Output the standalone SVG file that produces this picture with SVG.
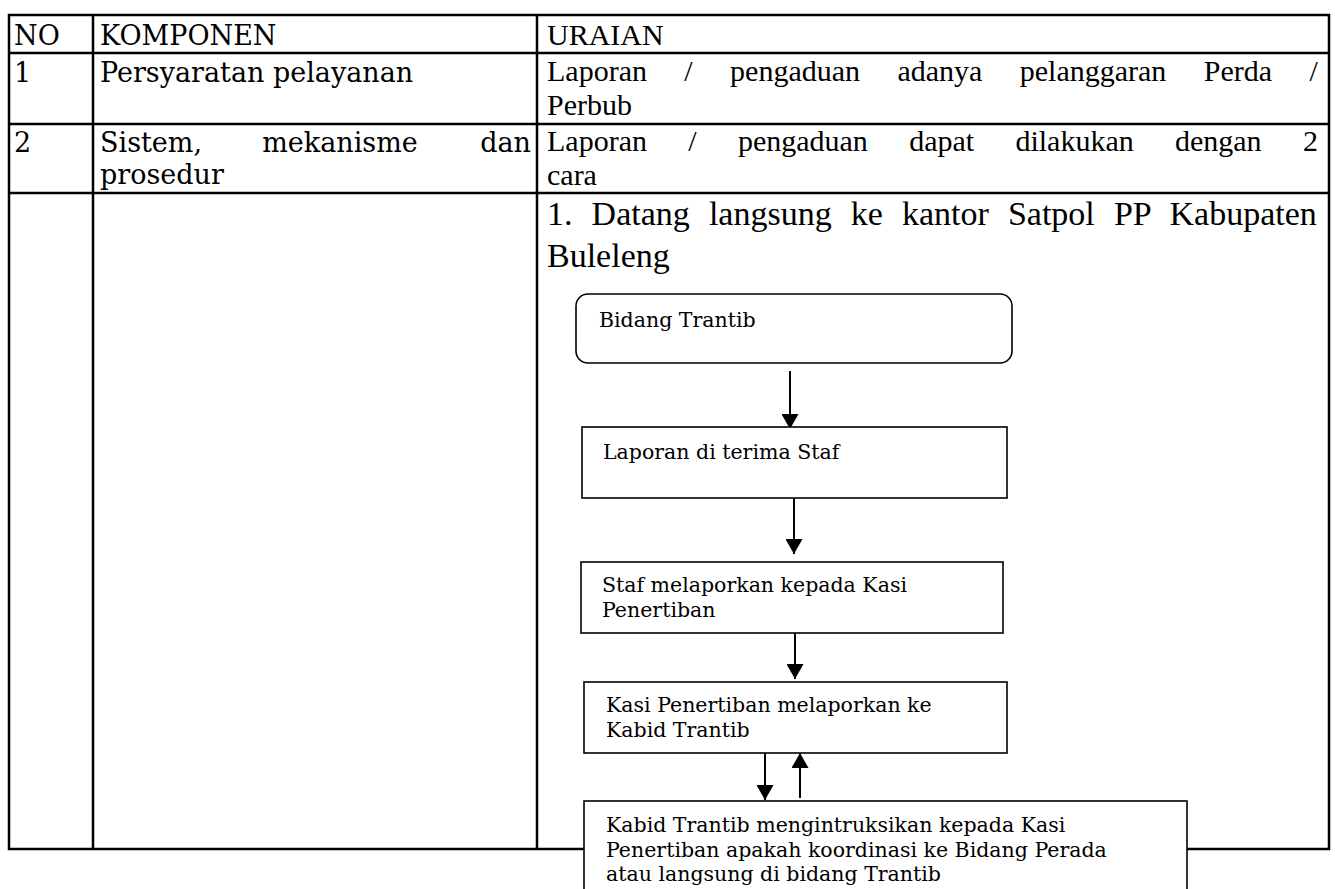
<svg xmlns="http://www.w3.org/2000/svg" width="1335" height="889" viewBox="0 0 1335 889">
<style>
.grid{stroke:#000;stroke-width:2.5;fill:none}
.box{fill:#fff;stroke:#000;stroke-width:1.6}
.k{font-family:"DejaVu Serif","Liberation Serif",serif;font-size:27px;fill:#000}
.u{font-family:"Liberation Serif",serif;font-size:30px;fill:#000}
.u3{font-family:"Liberation Serif",serif;font-size:34px;fill:#000}
.f{font-family:"DejaVu Serif","Liberation Serif",serif;font-size:20.5px;fill:#000}
.c{stroke:#000;stroke-width:2;fill:none}
</style>
<defs>
<marker id="ah" viewBox="0 0 15 17" refX="15" refY="8.5" markerWidth="15" markerHeight="17" markerUnits="userSpaceOnUse" orient="auto">
<path d="M0,0 L15,8.5 L0,17 z" fill="#000"/>
</marker>
</defs>
<rect width="1335" height="889" fill="#fff"/>
<g id="table">
<rect class="grid" x="9" y="15" width="1320" height="834"/>
<line class="grid" x1="93" y1="15" x2="93" y2="849"/>
<line class="grid" x1="537" y1="15" x2="537" y2="849"/>
<line class="grid" x1="9" y1="53" x2="1329" y2="53"/>
<line class="grid" x1="9" y1="124" x2="1329" y2="124"/>
<line class="grid" x1="9" y1="193" x2="1329" y2="193"/>
<text class="k" x="14" y="45">NO</text>
<text class="k" x="100" y="45">KOMPONEN</text>
<text class="u" x="547" y="45" font-size="32">URAIAN</text>
<text class="k" x="14" y="82">1</text>
<text class="k" x="100" y="82">Persyaratan pelayanan</text>
<text class="u" x="547" y="81" word-spacing="29.9">Laporan / pengaduan adanya pelanggaran Perda /</text>
<text class="u" x="547" y="115">Perbub</text>
<text class="k" x="14" y="152">2</text>
<text class="k" x="100" y="152">Sistem,</text>
<text class="k" x="340" y="152" text-anchor="middle">mekanisme</text>
<text class="k" x="531" y="152" text-anchor="end">dan</text>
<text class="k" x="100" y="184">prosedur</text>
<text class="u" x="547" y="151" word-spacing="33.8">Laporan / pengaduan dapat dilakukan dengan 2</text>
<text class="u" x="547" y="185">cara</text>
<text class="u3" x="547" y="225" word-spacing="10.6">1. Datang langsung ke kantor Satpol PP Kabupaten</text>
<text class="u3" x="547" y="267">Buleleng</text>
</g>
<g id="connectors">
<line class="c" x1="790" y1="371" x2="790" y2="429" marker-end="url(#ah)"/>
<line class="c" x1="794" y1="498" x2="794" y2="554" marker-end="url(#ah)"/>
<line class="c" x1="795" y1="633" x2="795" y2="679" marker-end="url(#ah)"/>
<line class="c" x1="765" y1="753" x2="765" y2="800" marker-end="url(#ah)"/>
<line class="c" x1="800" y1="798" x2="800" y2="753" marker-end="url(#ah)"/>
</g>
<g id="n1">
<rect class="box" x="576" y="294" width="436" height="69" rx="12"/>
<text class="f" x="599" y="327">Bidang Trantib</text>
</g>
<g id="n2">
<rect class="box" x="582" y="427" width="425" height="71"/>
<text class="f" x="603" y="459">Laporan di terima Staf</text>
</g>
<g id="n3">
<rect class="box" x="581" y="562" width="422" height="71"/>
<text class="f" x="602" y="592">Staf melaporkan kepada Kasi</text>
<text class="f" x="602" y="617">Penertiban</text>
</g>
<g id="n4">
<rect class="box" x="584" y="682" width="423" height="71"/>
<text class="f" x="606" y="712">Kasi Penertiban melaporkan ke</text>
<text class="f" x="606" y="737">Kabid Trantib</text>
</g>
<g id="n5">
<rect class="box" x="584" y="801" width="603" height="100"/>
<text class="f" x="606" y="832">Kabid Trantib mengintruksikan kepada Kasi</text>
<text class="f" x="606" y="857">Penertiban apakah koordinasi ke Bidang Perada</text>
<text class="f" x="606" y="881">atau langsung di bidang Trantib</text>
</g>
</svg>
